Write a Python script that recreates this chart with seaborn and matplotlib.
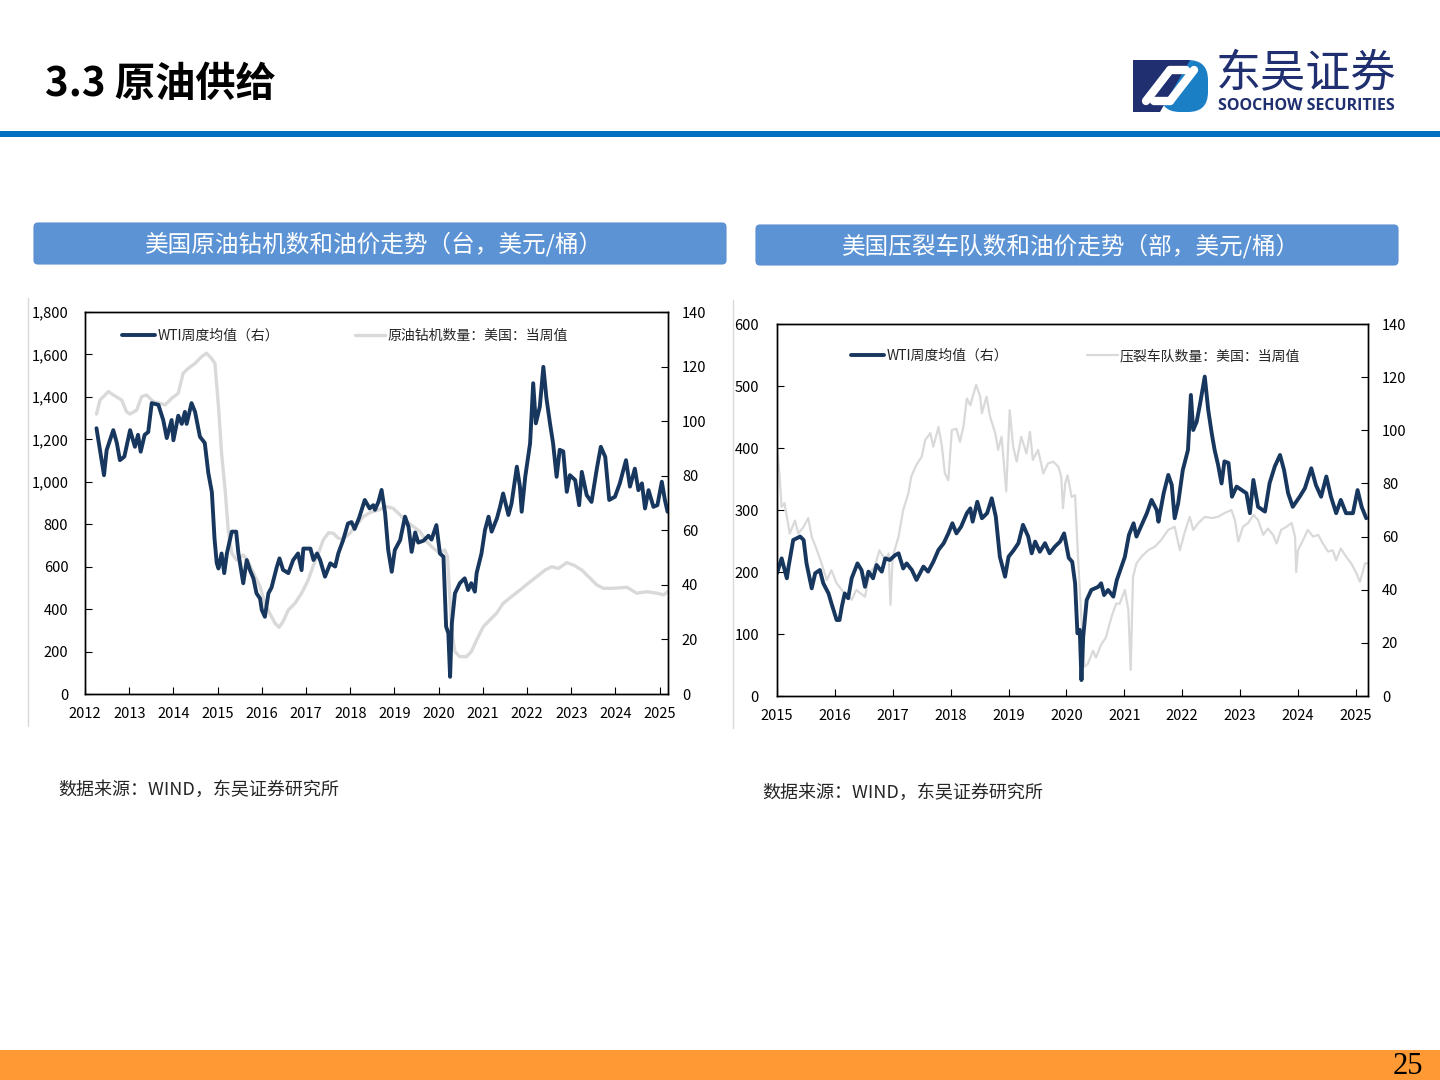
import numpy as np
import matplotlib
matplotlib.use('Agg')
import matplotlib.pyplot as plt
from matplotlib.patches import FancyBboxPatch, Rectangle, Polygon
from matplotlib.ticker import FuncFormatter
import seaborn as sns

# 左图：原油钻机数量 (左轴) 与 WTI 周度均值 (右轴)
rig_year = [2012.26, 2012.34, 2012.53, 2012.64, 2012.83, 2012.94, 2013.02, 2013.17, 2013.28, 2013.39,
            2013.55, 2013.70, 2013.81, 2013.96, 2014.11, 2014.22, 2014.34, 2014.49, 2014.64, 2014.75,
            2014.86, 2014.94, 2015.02, 2015.09, 2015.17, 2015.24, 2015.32, 2015.43, 2015.58, 2015.69,
            2015.85, 2015.96, 2016.07, 2016.18, 2016.30, 2016.39, 2016.48, 2016.60, 2016.75, 2016.90,
            2017.05, 2017.17, 2017.28, 2017.39, 2017.51, 2017.62, 2017.73, 2017.84, 2017.99, 2018.14,
            2018.30, 2018.45, 2018.64, 2018.82, 2018.97, 2019.13, 2019.28, 2019.43, 2019.58, 2019.73,
            2019.88, 2020.03, 2020.14, 2020.20, 2020.25, 2020.30, 2020.37, 2020.48, 2020.63, 2020.74,
            2020.86, 2021.01, 2021.16, 2021.31, 2021.46, 2021.65, 2021.84, 2022.03, 2022.22, 2022.41,
            2022.56, 2022.71, 2022.90, 2023.05, 2023.24, 2023.43, 2023.58, 2023.73, 2023.95, 2024.26,
            2024.48, 2024.71, 2024.94, 2025.09, 2025.18]
rig_count = [1319, 1385, 1425, 1409, 1385, 1330, 1319, 1338, 1401, 1409,
             1377, 1370, 1362, 1393, 1417, 1511, 1535, 1558, 1590, 1606,
             1582, 1558, 1354, 1134, 961, 773, 663, 631, 655, 624,
             553, 506, 427, 380, 333, 314, 341, 396, 427, 475,
             537, 608, 663, 726, 760, 757, 734, 729, 757, 796,
             836, 855, 867, 883, 875, 844, 812, 789, 765, 718,
             687, 663, 679, 647, 475, 286, 199, 176, 176, 199,
             254, 317, 349, 380, 427, 459, 490, 522, 553, 584,
             600, 592, 619, 608, 584, 545, 514, 498, 498, 503,
             475, 482, 475, 467, 482]

wti_l_year = [2012.26, 2012.43, 2012.49, 2012.64, 2012.72, 2012.79, 2012.89, 2013.02, 2013.13, 2013.20,
              2013.26, 2013.35, 2013.43, 2013.51, 2013.66, 2013.77, 2013.85, 2013.96, 2014.00, 2014.11,
              2014.19, 2014.26, 2014.30, 2014.41, 2014.49, 2014.60, 2014.71, 2014.79, 2014.87, 2014.93,
              2014.98, 2015.02, 2015.09, 2015.15, 2015.21, 2015.32, 2015.42, 2015.47, 2015.58, 2015.66,
              2015.73, 2015.81, 2015.88, 2015.96, 2016.00, 2016.07, 2016.15, 2016.22, 2016.34, 2016.40,
              2016.48, 2016.60, 2016.71, 2016.82, 2016.90, 2016.94, 2017.10, 2017.17, 2017.25, 2017.32,
              2017.43, 2017.55, 2017.66, 2017.73, 2017.84, 2017.95, 2018.03, 2018.10, 2018.20, 2018.33,
              2018.44, 2018.52, 2018.56, 2018.64, 2018.71, 2018.79, 2018.86, 2018.94, 2019.01, 2019.13,
              2019.24, 2019.32, 2019.39, 2019.47, 2019.54, 2019.66, 2019.77, 2019.84, 2019.95, 2020.03,
              2020.11, 2020.17, 2020.22, 2020.26, 2020.30, 2020.37, 2020.48, 2020.59, 2020.67, 2020.74,
              2020.82, 2020.86, 2020.97, 2021.05, 2021.13, 2021.20, 2021.32, 2021.39, 2021.46, 2021.58,
              2021.65, 2021.77, 2021.84, 2021.88, 2021.96, 2022.07, 2022.14, 2022.20, 2022.29, 2022.37,
              2022.44, 2022.52, 2022.59, 2022.67, 2022.74, 2022.82, 2022.90, 2022.97, 2023.09, 2023.18,
              2023.24, 2023.35, 2023.46, 2023.58, 2023.67, 2023.77, 2023.86, 2023.99, 2024.10, 2024.24,
              2024.33, 2024.44, 2024.52, 2024.60, 2024.67, 2024.75, 2024.86, 2024.95, 2025.05, 2025.12,
              2025.18]
wti_l_price = [97.4, 80.2, 89.4, 96.7, 92.0, 85.7, 87.0, 96.7, 90.6, 95.0,
               88.8, 95.0, 96.0, 106.6, 106.0, 100.4, 93.8, 100.4, 93.0, 102.0,
               99.0, 103.4, 99.0, 106.6, 103.4, 94.3, 92.0, 81.0, 74.0, 57.0,
               48.0, 46.0, 51.5, 44.3, 51.5, 59.5, 59.5, 51.6, 40.6, 49.1,
               45.5, 42.4, 36.9, 35.0, 30.8, 28.3, 36.9, 39.0, 46.6, 49.7,
               45.5, 44.3, 49.1, 51.5, 45.4, 53.3, 53.3, 49.1, 51.5, 49.1,
               43.0, 47.9, 46.7, 51.5, 56.4, 62.5, 63.0, 60.5, 64.5, 71.1,
               68.0, 69.2, 67.5, 70.5, 74.8, 66.2, 52.8, 44.8, 52.8, 56.4,
               65.0, 61.3, 52.1, 59.2, 55.5, 56.2, 58.0, 56.6, 61.9, 51.5,
               50.3, 24.7, 22.3, 6.3, 26.0, 36.9, 40.6, 42.4, 38.1, 40.6,
               37.5, 44.3, 51.5, 60.1, 65.0, 59.5, 64.4, 68.6, 73.5, 65.6,
               69.8, 83.3, 76.0, 66.8, 79.6, 91.9, 113.9, 99.2, 105.3, 119.9,
               108.4, 99.2, 91.9, 79.6, 89.5, 88.9, 74.1, 80.2, 78.4, 69.2,
               81.4, 72.9, 70.4, 82.6, 90.6, 86.9, 71.1, 72.3, 77.2, 85.7,
               76.0, 82.6, 74.7, 77.2, 68.0, 74.7, 68.6, 69.2, 77.8, 71.1,
               66.8]

# 右图：压裂车队数量 (左轴) 与 WTI 周度均值 (右轴)
frac_year = [2015.00, 2015.04, 2015.08, 2015.13, 2015.22, 2015.31, 2015.37, 2015.46, 2015.54, 2015.60,
             2015.69, 2015.77, 2015.86, 2015.94, 2016.03, 2016.12, 2016.20, 2016.29, 2016.37, 2016.52,
             2016.60, 2016.69, 2016.77, 2016.87, 2016.93, 2016.96, 2017.00, 2017.10, 2017.18, 2017.27,
             2017.32, 2017.41, 2017.50, 2017.56, 2017.65, 2017.70, 2017.79, 2017.85, 2017.90, 2017.96,
             2018.02, 2018.10, 2018.16, 2018.22, 2018.28, 2018.34, 2018.44, 2018.51, 2018.54, 2018.62,
             2018.68, 2018.77, 2018.82, 2018.88, 2018.96, 2019.02, 2019.08, 2019.14, 2019.22, 2019.31,
             2019.37, 2019.42, 2019.51, 2019.60, 2019.68, 2019.77, 2019.86, 2019.91, 2019.94, 2019.98,
             2020.02, 2020.09, 2020.15, 2020.20, 2020.26, 2020.31, 2020.37, 2020.46, 2020.51, 2020.60,
             2020.68, 2020.78, 2020.86, 2020.92, 2021.01, 2021.07, 2021.11, 2021.15, 2021.21, 2021.30,
             2021.41, 2021.53, 2021.64, 2021.76, 2021.87, 2021.96, 2022.04, 2022.13, 2022.19, 2022.28,
             2022.39, 2022.51, 2022.62, 2022.73, 2022.85, 2022.91, 2022.97, 2023.05, 2023.14, 2023.23,
             2023.31, 2023.40, 2023.48, 2023.57, 2023.63, 2023.71, 2023.80, 2023.89, 2023.95, 2023.97,
             2024.00, 2024.09, 2024.17, 2024.26, 2024.35, 2024.43, 2024.52, 2024.60, 2024.66, 2024.74,
             2024.83, 2024.92, 2025.01, 2025.07, 2025.16, 2025.20]
frac_count = [402, 360, 305, 311, 262, 283, 262, 273, 287, 257,
              235, 214, 187, 203, 182, 171, 163, 155, 171, 160,
              198, 209, 235, 219, 230, 147, 225, 257, 300, 327,
              354, 373, 386, 413, 424, 402, 434, 402, 359, 348,
              429, 431, 410, 434, 480, 469, 502, 483, 456, 483,
              451, 424, 397, 418, 330, 461, 402, 378, 418, 391,
              426, 381, 397, 359, 375, 378, 370, 354, 303, 343,
              356, 321, 324, 225, 123, 47, 52, 73, 62, 83,
              94, 128, 149, 149, 171, 139, 42, 192, 214, 225,
              235, 241, 252, 268, 273, 235, 263, 289, 268, 279,
              289, 287, 289, 295, 300, 284, 249, 273, 279, 292,
              284, 260, 270, 260, 246, 268, 273, 279, 257, 200,
              235, 252, 268, 257, 260, 246, 233, 235, 219, 238,
              225, 214, 198, 184, 214, 214]

wti_r_year = [2015.00, 2015.08, 2015.17, 2015.20, 2015.28, 2015.40, 2015.46, 2015.51, 2015.60, 2015.66,
              2015.74, 2015.80, 2015.89, 2015.94, 2016.03, 2016.08, 2016.12, 2016.17, 2016.23, 2016.29,
              2016.39, 2016.46, 2016.52, 2016.58, 2016.66, 2016.72, 2016.81, 2016.87, 2016.95, 2017.04,
              2017.10, 2017.18, 2017.24, 2017.33, 2017.41, 2017.53, 2017.61, 2017.70, 2017.79, 2017.88,
              2017.96, 2018.03, 2018.10, 2018.18, 2018.28, 2018.34, 2018.38, 2018.46, 2018.54, 2018.63,
              2018.71, 2018.78, 2018.85, 2018.94, 2019.00, 2019.09, 2019.17, 2019.25, 2019.34, 2019.40,
              2019.46, 2019.54, 2019.63, 2019.71, 2019.80, 2019.89, 2019.96, 2020.04, 2020.10, 2020.15,
              2020.19, 2020.23, 2020.26, 2020.29, 2020.35, 2020.43, 2020.55, 2020.60, 2020.65, 2020.72,
              2020.81, 2020.87, 2020.95, 2021.01, 2021.08, 2021.16, 2021.21, 2021.30, 2021.39, 2021.47,
              2021.56, 2021.59, 2021.68, 2021.76, 2021.82, 2021.87, 2021.93, 2022.01, 2022.10, 2022.15,
              2022.19, 2022.25, 2022.31, 2022.39, 2022.45, 2022.51, 2022.56, 2022.62, 2022.68, 2022.73,
              2022.80, 2022.86, 2022.94, 2023.02, 2023.11, 2023.17, 2023.23, 2023.31, 2023.43, 2023.51,
              2023.60, 2023.69, 2023.76, 2023.83, 2023.91, 2024.03, 2024.12, 2024.23, 2024.31, 2024.40,
              2024.49, 2024.57, 2024.66, 2024.74, 2024.83, 2024.95, 2025.03, 2025.10, 2025.18]
wti_r_price = [46.2, 51.8, 44.3, 48.7, 58.7, 60.0, 58.7, 49.9, 40.5, 46.2,
               47.4, 42.4, 38.6, 34.9, 28.6, 28.6, 33.6, 38.6, 36.8, 44.3,
               49.9, 47.4, 41.1, 46.8, 44.3, 49.3, 46.8, 51.8, 51.2, 53.0,
               53.7, 48.0, 49.9, 47.4, 43.7, 48.7, 46.8, 50.5, 55.0, 57.5,
               61.2, 65.0, 61.2, 63.7, 68.8, 70.6, 65.6, 73.1, 66.9, 68.8,
               74.4, 67.5, 52.4, 44.9, 52.4, 54.9, 57.5, 64.4, 60.0, 53.7,
               58.1, 54.3, 57.5, 53.7, 56.2, 58.1, 61.2, 52.0, 50.5, 42.4,
               23.6, 24.9, 6.0, 22.3, 36.1, 39.9, 41.1, 42.4, 38.0, 39.9,
               37.4, 43.6, 48.7, 52.4, 60.6, 65.0, 60.0, 64.4, 68.8, 73.8,
               70.0, 65.6, 76.3, 83.2, 79.4, 66.9, 72.5, 85.0, 92.6, 113.3,
               100.1, 103.2, 110.1, 120.2, 107.6, 98.9, 92.6, 87.0, 80.0, 88.3,
               87.7, 75.0, 78.8, 77.6, 76.3, 68.8, 81.3, 71.2, 69.4, 80.1,
               86.4, 90.7, 85.0, 76.3, 71.2, 75.0, 78.2, 85.7, 79.4, 75.0,
               82.6, 75.0, 68.8, 73.8, 68.8, 68.8, 77.5, 71.2, 66.9]

left_years = list(range(2012, 2026))
right_years = list(range(2015, 2026))

NAVY = '#17375e'
GREY = '#d9d9d9'

sns.set_style('white')
plt.rcParams['font.family'] = ['Noto Sans CJK SC', 'DejaVu Sans']
plt.rcParams['axes.unicode_minus'] = False

fig = plt.figure(figsize=(14.4, 10.8), dpi=100)

# 页面装饰层（像素坐标）
bg = fig.add_axes([0, 0, 1, 1])
bg.set_xlim(0, 1440)
bg.set_ylim(1080, 0)
bg.axis('off')

bg.text(45, 85, '3.3 原油供给', fontsize=29, fontweight='heavy', va='center', ha='left', color='black')
bg.add_patch(Rectangle((0, 131), 1440, 6, color='#0070c0', lw=0))
bg.add_patch(Rectangle((0, 1050), 1440, 30, color='#ff9933', lw=0))
bg.text(1408, 1067, '25', fontsize=22, family='Liberation Serif', ha='center', va='center', color='black')

# logo
bg.add_patch(FancyBboxPatch((1160, 60), 48, 52, boxstyle='round,pad=0,rounding_size=20',
                            fc='#1b7fc6', ec='none'))
bg.add_patch(Polygon([(1133, 60), (1190, 60), (1160, 112), (1133, 112)], closed=True,
                     fc='#1f2f70', ec='none'))
bg.plot([1146, 1170], [101, 70], color='white', lw=6, solid_capstyle='round')
bg.plot([1170, 1194], [101, 70], color='white', lw=6, solid_capstyle='round')
bg.plot([1170, 1186], [70, 70], color='white', lw=6, solid_capstyle='round')
bg.plot([1154, 1170], [101, 101], color='white', lw=6, solid_capstyle='round')
bg.text(1216, 74, '东吴证券', fontsize=32.5, fontweight='light', color='#1f2f70', ha='left', va='center')
bg.text(1218, 106, 'SOOCHOW SECURITIES', fontsize=11.5, family='Open Sans', fontweight='bold',
        color='#1f2f70', ha='left', va='center')

# 标题条
for (x0, y0, w, h, label) in [(34, 223, 692, 41, '美国原油钻机数和油价走势（台，美元/桶）'),
                              (756, 225, 642, 40, '美国压裂车队数和油价走势（部，美元/桶）')]:
    bg.add_patch(FancyBboxPatch((x0, y0), w, h, boxstyle='round,pad=0,rounding_size=4',
                                fc='#5b93d5', ec='#5b8fd0', lw=0.8))
    bg.text(x0 + w / 2 - 6, y0 + h / 2 + 1, label, fontsize=17, color='white', ha='center', va='center')

# 图片边线与数据来源
bg.plot([28, 28], [298, 726], color=GREY, lw=1)
bg.plot([733, 733], [300, 728], color=GREY, lw=1)
bg.text(58, 790, '数据来源：WIND，东吴证券研究所', fontsize=13, style='italic', ha='left', va='center')
bg.text(762, 793, '数据来源：WIND，东吴证券研究所', fontsize=13, style='italic', ha='left', va='center')


def style_axes(ax, ax2, years, xmax, ymax, ystep, lpad):
    ax.set_xlim(years[0], xmax)
    ax.set_ylim(0, ymax)
    ax.set_yticks(np.arange(0, ymax + 1, ystep))
    ax.yaxis.set_major_formatter(FuncFormatter(lambda v, p: f'{int(v):,}'))
    ax.set_xticks(years)
    ax.set_xticklabels([str(y) for y in years])
    ax2.set_ylim(0, 140)
    ax2.set_yticks(range(0, 141, 20))
    for a in (ax, ax2):
        a.set_xlabel('')
        a.set_ylabel('')
        for s in a.spines.values():
            s.set_color('black')
            s.set_linewidth(1.0)
    ax.tick_params(axis='x', direction='in', length=5, width=0.8, bottom=True, top=False,
                   labelsize=10.5, pad=9, colors='black')
    ax.tick_params(axis='y', direction='in', length=5, width=0.8, left=True,
                   labelsize=10.5, pad=lpad, colors='black')
    ax2.tick_params(axis='y', direction='in', length=5, width=0.8, right=True,
                    labelsize=10.5, pad=10, colors='black')


def add_legends(ax2, l1, l2, lab1, lab2, x1, x2, y):
    leg1 = ax2.legend([l1], [lab1], loc='center left', bbox_to_anchor=(x1, y), frameon=False,
                      borderpad=0, borderaxespad=0, handlelength=2.4, handletextpad=0.15,
                      fontsize=10)
    ax2.add_artist(leg1)
    ax2.legend([l2], [lab2], loc='center left', bbox_to_anchor=(x2, y), frameon=False,
               borderpad=0, borderaxespad=0, handlelength=2.2, handletextpad=0.15,
               fontsize=10)


# 左图
axL = fig.add_axes([85 / 1440, 1 - 694 / 1080, 583 / 1440, 382 / 1080])
axL2 = axL.twinx()
sns.lineplot(x=rig_year, y=rig_count, ax=axL, color=GREY, linewidth=2.4, estimator=None)
sns.lineplot(x=wti_l_year, y=wti_l_price, ax=axL2, color=NAVY, linewidth=2.8, estimator=None)
style_axes(axL, axL2, left_years, 2025.19, 1800, 200, 12)
add_legends(axL2, axL2.lines[0], axL.lines[0], 'WTI周度均值（右）', '原油钻机数量：美国：当周值',
            0.0635, 0.463, 0.937)

# 右图
axR = fig.add_axes([777 / 1440, 1 - 696 / 1080, 591 / 1440, 372 / 1080])
axR2 = axR.twinx()
sns.lineplot(x=frac_year, y=frac_count, ax=axR, color=GREY, linewidth=1.6, estimator=None)
sns.lineplot(x=wti_r_year, y=wti_r_price, ax=axR2, color=NAVY, linewidth=2.8, estimator=None)
style_axes(axR, axR2, right_years, 2025.21, 600, 100, 13)
add_legends(axR2, axR2.lines[0], axR.lines[0], 'WTI周度均值（右）', '压裂车队数量：美国：当周值',
            0.125, 0.5245, 0.914)

fig.savefig('out.png', dpi=100)
